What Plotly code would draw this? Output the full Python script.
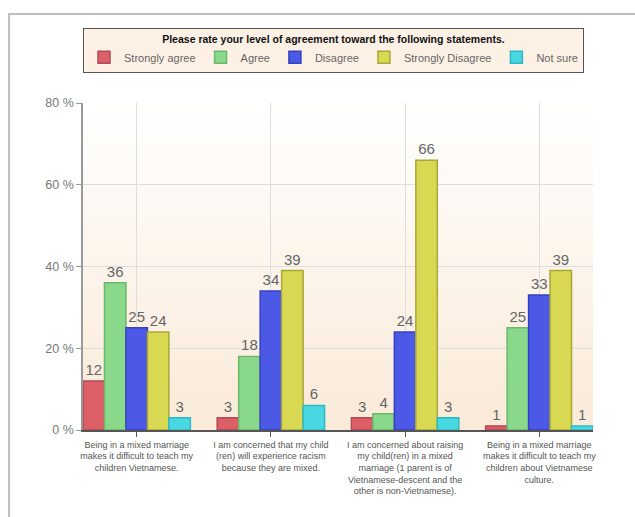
import plotly.graph_objects as go

categories = [
    "Being in a mixed marriage<br>makes it difficult to teach my<br>children Vietnamese.",
    "I am concerned that my child<br>(ren) will experience racism<br>because they are mixed.",
    "I am concerned about raising<br>my child(ren) in a mixed<br>marriage (1 parent is of<br>Vietnamese-descent and the<br>other is non-Vietnamese).",
    "Being in a mixed marriage<br>makes it difficult to teach my<br>children about Vietnamese<br>culture.",
]
series_names = ["Strongly agree", "Agree", "Disagree", "Strongly Disagree", "Not sure"]
strongly_agree = [12, 3, 3, 1]
agree = [36, 18, 4, 25]
disagree = [25, 34, 24, 33]
strongly_disagree = [24, 39, 66, 39]
not_sure = [3, 6, 3, 1]
y_ticks = [0, 20, 40, 60, 80]
y_tick_labels = ["0 %", "20 %", "40 %", "60 %", "80 %"]

values = [strongly_agree, agree, disagree, strongly_disagree, not_sure]
fills = ["#dc5f68", "#8ad88a", "#4c59e6", "#d8d852", "#48d8e2"]
lines = ["#b04a54", "#6cb86c", "#3442c0", "#a8a838", "#30b8c2"]

FONT = "Liberation Sans"

fig = go.Figure()
for name, vals, fc, lc in zip(series_names, values, fills, lines):
    fig.add_trace(go.Bar(
        name=name,
        x=categories,
        y=vals,
        marker=dict(color=fc, line=dict(color=lc, width=1.5)),
        text=[str(v) for v in vals],
        textposition="outside",
        textfont=dict(family=FONT, size=15, color="#666666"),
        cliponaxis=False,
    ))

# gradient plot background (white at top to peach at bottom)
shapes = []
n = 30
top = (255, 255, 255)
bot = (250, 234, 216)
for i in range(n):
    t = (i + 0.5) / n
    c = tuple(int(round(top[k] + (bot[k] - top[k]) * t)) for k in range(3))
    shapes.append(dict(
        type="rect", xref="paper", yref="paper",
        x0=0, x1=1, y0=1 - (i + 1) / n, y1=1 - i / n + 0.002,
        fillcolor="rgb(%d,%d,%d)" % c, line=dict(width=0), layer="below",
    ))
# outer frame
shapes.append(dict(
    type="rect", xref="paper", yref="paper",
    x0=-0.145, x1=1.2, y0=-0.5, y1=1.272,
    line=dict(color="#bdbdbd", width=2), fillcolor="rgba(0,0,0,0)", layer="below",
))

fig.update_layout(
    width=635, height=517,
    margin=dict(l=83, r=42, t=103, b=87),
    paper_bgcolor="white",
    plot_bgcolor="#fdf6ee",
    barmode="group",
    bargap=0.2,
    bargroupgap=0,
    font=dict(family=FONT, color="#555555"),
    shapes=shapes,
    showlegend=True,
    legend=dict(
        orientation="h",
        x=0.0, xanchor="left",
        y=1.229, yanchor="top",
        bgcolor="#fdf1e6",
        bordercolor="#555555",
        borderwidth=1,
        font=dict(family=FONT, size=11, color="#666666"),
        title=dict(
            text="<b>Please rate your level of agreement toward the following statements.</b>",
            side="top center",
            font=dict(family=FONT, size=10.5, color="#111111"),
        ),
        tracegroupgap=0,
        itemwidth=30,
    ),
    xaxis=dict(
        range=[-0.4, 3.4],
        showgrid=True, gridcolor="#dddddd", gridwidth=1,
        showline=True, linecolor="#555555", linewidth=1.5,
        ticks="outside", ticklen=5, tickcolor="#555555",
        tickfont=dict(family=FONT, size=9, color="#555555"),
        zeroline=False,
    ),
    yaxis=dict(
        range=[0, 80],
        tickvals=y_ticks,
        ticktext=y_tick_labels,
        showgrid=True, gridcolor="#dddddd", gridwidth=1,
        showline=True, linecolor="#999999", linewidth=1.5,
        ticks="outside", ticklen=5, tickcolor="#999999",
        tickfont=dict(family=FONT, size=12.5, color="#777777"),
        zeroline=False,
    ),
)

fig.write_html("out.html")
